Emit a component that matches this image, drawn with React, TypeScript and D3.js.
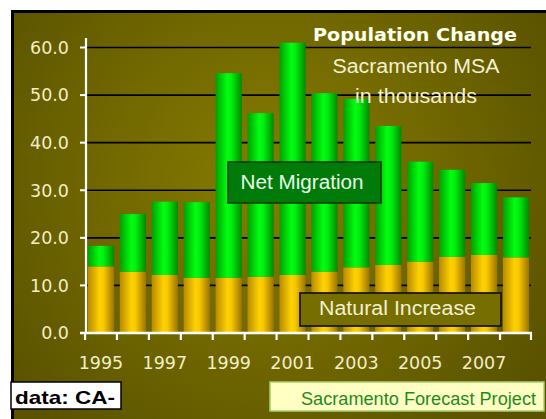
import React from "react";
import * as d3 from "d3";

const years = ["1995","1996","1997","1998","1999","2000","2001","2002","2003","2004","2005","2006","2007","2008"];
const naturalIncrease = [14.0, 12.9, 12.2, 11.6, 11.6, 11.8, 12.2, 12.9, 13.8, 14.3, 15.0, 16.0, 16.4, 15.9];
const netMigration = [4.3, 12.1, 15.4, 15.9, 43.0, 34.4, 48.8, 37.5, 35.4, 29.2, 21.0, 18.3, 15.1, 12.6];
const yTicks = [0, 10, 20, 30, 40, 50, 60];
const yearLabels = ["1995","1997","1999","2001","2003","2005","2007"];

const W = 546, H = 419;

export default function App() {
  const x = d3.scaleBand<string>().domain(years).range([86, 531]).paddingInner(0.18).paddingOuter(0.06);
  const y = d3.scaleLinear().domain([0, 60]).range([333, 47.5]);
  const step = x.step();
  const gapHalf = (step - x.bandwidth()) / 2;
  const boundaries = years.map((yr) => (x(yr) as number) - gapHalf).concat([531]);
  const stackData = years.map((yr, i) => ({ yr, n: naturalIncrease[i], m: netMigration[i] }));
  const stack = d3.stack<any>().keys(["n", "m"])(stackData);
  const labelColor = "#f2eec6";

  return (
    <svg width={W} height={H} style={{ position: "absolute", left: 0, top: 0 }}>
      <defs>
        <radialGradient id="bg" cx="270" cy="180" r="330" gradientUnits="userSpaceOnUse">
          <stop offset="0" stopColor="#877c02" />
          <stop offset="0.55" stopColor="#6f6600" />
          <stop offset="1" stopColor="#5a5200" />
        </radialGradient>
        <linearGradient id="gGreen" x1="0" x2="1" y1="0" y2="0">
          <stop offset="0" stopColor="#00a000" />
          <stop offset="0.45" stopColor="#00ff10" />
          <stop offset="0.6" stopColor="#00f010" />
          <stop offset="1" stopColor="#008a00" />
        </linearGradient>
        <linearGradient id="gYellow" x1="0" x2="1" y1="0" y2="0">
          <stop offset="0" stopColor="#b88a00" />
          <stop offset="0.45" stopColor="#ffd200" />
          <stop offset="0.6" stopColor="#f8c800" />
          <stop offset="1" stopColor="#9a7400" />
        </linearGradient>
      </defs>
      <rect x={0} y={0} width={W} height={H} fill="#ffffff" />
      <rect x={11} y={10} width={W - 11} height={H - 10} fill="#000000" />
      <rect x={14} y={13} width={W - 14} height={H - 13} fill="url(#bg)" />

      {/* gridlines */}
      {yTicks.filter((t) => t > 0).map((t) => (
        <line key={"g" + t} x1={86} x2={531} y1={y(t)} y2={y(t)} stroke="#000000" strokeWidth={1.6} />
      ))}

      {/* bars */}
      {stack.map((layer, li) =>
        layer.map((d, i) => (
          <rect
            key={li + "-" + i}
            x={x(years[i])}
            width={x.bandwidth()}
            y={y(d[1])}
            height={y(d[0]) - y(d[1])}
            fill={li === 0 ? "url(#gYellow)" : "url(#gGreen)"}
          />
        ))
      )}

      {/* y axis */}
      <line x1={86} x2={86} y1={38} y2={334} stroke="#ffffff" strokeWidth={2.2} />
      {yTicks.map((t) => (
        <g key={"yt" + t}>
          <line x1={80} x2={86} y1={y(t)} y2={y(t)} stroke="#ffffff" strokeWidth={2} />
          <text x={69} y={y(t)} dy="0.36em" textAnchor="end" fill={labelColor}
            fontFamily="DejaVu Sans, sans-serif" fontSize={17.5}>{t.toFixed(1)}</text>
        </g>
      ))}

      {/* x axis */}
      <line x1={80} x2={532} y1={333} y2={333} stroke="#ffffff" strokeWidth={2.4} />
      {boundaries.map((b, i) => (
        <line key={"xt" + i} x1={b} x2={b} y1={333} y2={340} stroke="#ffffff" strokeWidth={2.2} />
      ))}
      {yearLabels.map((yr) => (
        <text key={"xl" + yr} x={(x(yr) as number) + x.bandwidth() / 2} y={369} textAnchor="middle"
          fill={labelColor} fontFamily="DejaVu Sans, sans-serif" fontSize={17.5}>{yr}</text>
      ))}

      {/* titles */}
      <text x={415} y={41} textAnchor="middle" fill="#fffff2" fontFamily="DejaVu Sans, sans-serif"
        fontWeight="bold" fontSize={17} textLength={204} lengthAdjust="spacingAndGlyphs">Population Change</text>
      <text x={416} y={73} textAnchor="middle" fill="#f3f0d2" fontFamily="Liberation Sans, Arial, sans-serif"
        fontSize={19.5} textLength={167} lengthAdjust="spacingAndGlyphs">Sacramento MSA</text>
      <text x={416} y={103} textAnchor="middle" fill="#f3f0d2" fontFamily="Liberation Sans, Arial, sans-serif"
        fontSize={19.5} textLength={122} lengthAdjust="spacingAndGlyphs">in thousands</text>

      {/* Net Migration label */}
      <rect x={228} y={162} width={153} height={41} fill="#007a08" stroke="#003a00" strokeWidth={1.5} />
      <text x={302} y={189} textAnchor="middle" fill="#e8ffe8" fontFamily="Liberation Sans, Arial, sans-serif"
        fontSize={19.5} textLength={123} lengthAdjust="spacingAndGlyphs">Net Migration</text>

      {/* Natural Increase label */}
      <rect x={300} y={293} width={201} height={33} fill="#776e00" stroke="#1a1800" strokeWidth={1.8} />
      <text x={397.5} y={315} textAnchor="middle" fill="#f3f0d2" fontFamily="Liberation Sans, Arial, sans-serif"
        fontSize={19.5} textLength={157} lengthAdjust="spacingAndGlyphs">Natural Increase</text>

      {/* source boxes */}
      <rect x={11} y={382} width={110} height={27} fill="#ffffff" stroke="#000000" strokeWidth={1.5} />
      <text x={15} y={404} fill="#000000" fontFamily="Liberation Sans Narrow, Liberation Sans, Arial, sans-serif"
        fontWeight="bold" fontSize={19} textLength={100} lengthAdjust="spacingAndGlyphs">data: CA-</text>

      <rect x={270} y={382} width={274} height={29} fill="#ffffc4" stroke="#a8d070" strokeWidth={1.5} />
      <text x={301} y={404.5} fill="#1e8a1e" fontFamily="Liberation Sans Narrow, Liberation Sans, Arial, sans-serif"
        fontSize={17.5} textLength={235} lengthAdjust="spacingAndGlyphs">Sacramento  Forecast Project</text>
    </svg>
  );
}
